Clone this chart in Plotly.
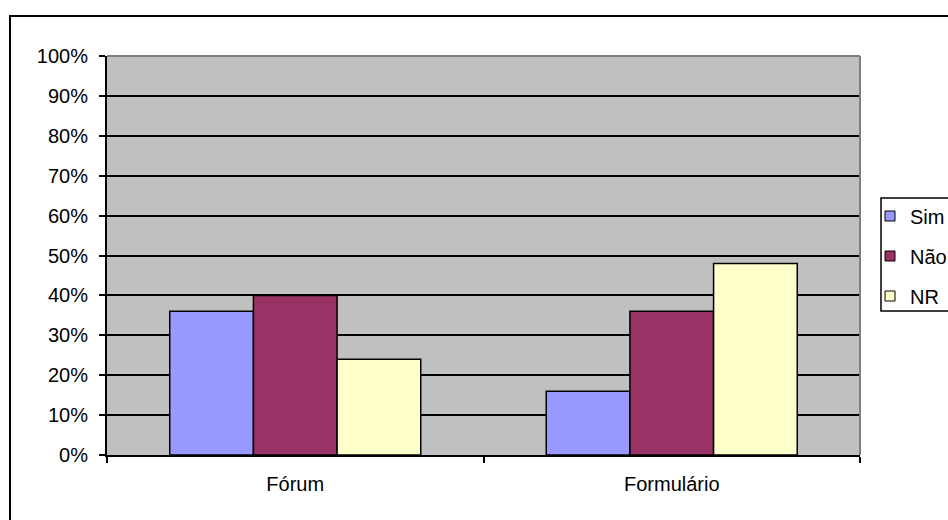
import plotly.graph_objects as go

# Survey answers per channel
categories = ["Fórum", "Formulário"]
series_names = ["Sim", "Não", "NR"]
sim = [0.36, 0.16]
nao = [0.40, 0.36]
nr = [0.24, 0.48]
y_ticks = [0, 0.1, 0.2, 0.3, 0.4, 0.5, 0.6, 0.7, 0.8, 0.9, 1.0]

colors = ["#9999FF", "#993366", "#FFFFCC"]
values = [sim, nao, nr]

FONT = dict(family="Liberation Sans, Arial, sans-serif", size=20, color="black")

W, H = 948, 520
ML, MR, MT, MB = 107, 88, 56, 65
PW, PH = W - ML - MR, H - MT - MB


def px_x(px):
    return (px - ML) / PW


def px_y(py):
    return (H - MB - py) / PH


fig = go.Figure()
for name, vals, col in zip(series_names, values, colors):
    fig.add_trace(go.Bar(
        x=categories, y=vals, name=name, showlegend=False,
        marker=dict(color=col, line=dict(color="black", width=1.5)),
    ))
    # small square legend keys
    fig.add_trace(go.Scatter(
        x=[None], y=[None], mode="markers", name=name, legendgroup=name,
        marker=dict(symbol="square", size=10, color=col,
                    line=dict(color="black", width=1)),
    ))

fig.update_layout(
    width=W, height=H,
    margin=dict(l=ML, r=MR, t=MT, b=MB, autoexpand=False),
    paper_bgcolor="white",
    plot_bgcolor="#C0C0C0",
    font=FONT,
    barmode="group",
    bargap=1 / 3,
    bargroupgap=0,
    showlegend=True,
    legend=dict(
        x=px_x(870), xanchor="left", y=px_y(256), yanchor="middle",
        bgcolor="rgba(0,0,0,0)", borderwidth=0,
        tracegroupgap=11, traceorder="grouped",
        font=FONT,
    ),
    xaxis=dict(
        type="category", showgrid=False, tickson="boundaries",
        ticks="outside", ticklen=6, tickwidth=1.5, tickcolor="black",
        showline=True, linecolor="black", linewidth=2,
        tickfont=FONT, ticklabelstandoff=10,
    ),
    yaxis=dict(
        range=[0, 1], tickvals=y_ticks, tickformat=".0%",
        showgrid=True, gridcolor="black", gridwidth=1.5,
        ticks="outside", ticklen=6, tickwidth=1.5, tickcolor="black",
        showline=True, linecolor="black", linewidth=2,
        tickfont=FONT, zeroline=False, ticklabelstandoff=7,
    ),
    shapes=[
        # plot area border on top and right
        dict(type="line", xref="paper", yref="paper", x0=0, x1=1, y0=1, y1=1,
             line=dict(color="#808080", width=2)),
        dict(type="line", xref="paper", yref="paper", x0=1, x1=1, y0=0, y1=1,
             line=dict(color="#808080", width=2)),
        # outer chart frame
        dict(type="rect", xref="paper", yref="paper",
             x0=px_x(10), x1=px_x(980), y0=px_y(540), y1=px_y(16),
             line=dict(color="black", width=2), layer="below"),
        # legend frame
        dict(type="rect", xref="paper", yref="paper",
             x0=px_x(881), x1=px_x(980), y0=px_y(311), y1=px_y(198),
             line=dict(color="black", width=1.5)),
    ],
)

fig.write_html("out.html")
